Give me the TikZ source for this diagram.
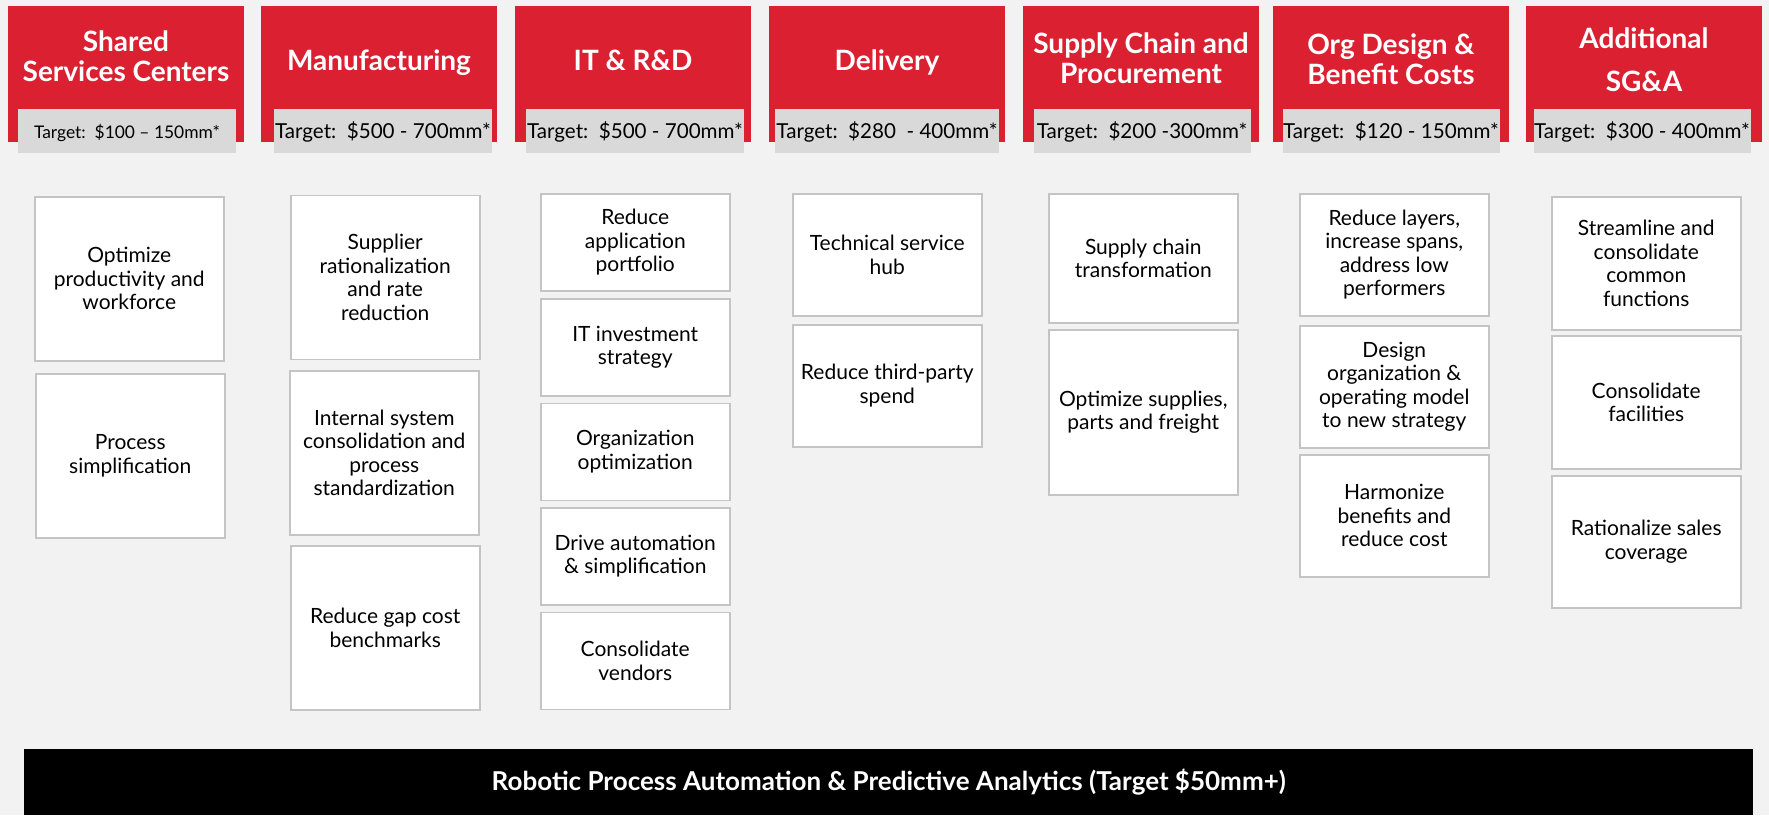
\documentclass[tikz,border=0pt]{standalone}
\usepackage{fontspec}
\setmainfont{Lato}
\definecolor{bgc}{HTML}{F2F2F2}
\definecolor{xred}{HTML}{DA2031}
\definecolor{bandc}{HTML}{D9D9D9}
\definecolor{edgec}{HTML}{C4C4C4}
\begin{document}
\begin{tikzpicture}[x=1pt,y=-1pt,
  hdr/.style={fill=xred, draw=none, anchor=north west, minimum width=236pt, minimum height=136pt, inner sep=0pt},
  tband/.style={fill=bandc, draw=none, anchor=north west, minimum height=44pt, inner sep=0pt},
  ttl/.style={text=white, font=\fontsize{28}{30}\selectfont\bfseries, align=center, anchor=base, inner sep=0pt},
  tgt/.style={text=black, font=\fontsize{20.6}{24}\selectfont, anchor=base, inner sep=0pt},
  card/.style={fill=white, draw=edgec, line width=1.5pt, anchor=north west, minimum width=189pt, inner sep=0pt, align=center, font=\fontsize{21}{23.4}\selectfont},
  bar/.style={fill=black, draw=none, anchor=north west, minimum width=1729pt, minimum height=66pt, inner sep=0pt, text=white, font=\fontsize{26}{30}\selectfont\bfseries},
]
\fill[bgc] (0,0) rectangle (1769,815);
\useasboundingbox (0,0) rectangle (1769,815);

% headers
\node[hdr] (h1) at (8,6) {};
\node[hdr] (h2) at (261,6) {};
\node[hdr] (h3) at (515,6) {};
\node[hdr] (h4) at (769,6) {};
\node[hdr] (h5) at (1023,6) {};
\node[hdr] (h6) at (1273,6) {};
\node[hdr] (h7) at (1526,6) {};

% titles (anchor=base is the baseline of the last line)
\node[ttl] (t1) at (126,81) {Shared\\Services Centers};
\node[ttl] (t2) at (379,70) {Manufacturing};
\node[ttl] (t3) at (633,70) {IT \& R\&D};
\node[ttl] (t4) at (887,70) {Delivery};
\node[ttl] (t5) at (1141,83) {Supply Chain and\\Procurement};
\node[ttl] (t6) at (1391,84) {Org Design \&\\Benefit Costs};
\node[ttl, font=\fontsize{28}{43}\selectfont\bfseries] (t7) at (1644,91) {Additional\\SG\&A};

% target bands
\node[tband, minimum width=218pt] (b1) at (18,109) {};
\node[tband, minimum width=218pt] (b2) at (274,109) {};
\node[tband, minimum width=218pt] (b3) at (526,109) {};
\node[tband, minimum width=224pt] (b4) at (775,109) {};
\node[tband, minimum width=217pt] (b5) at (1034,109) {};
\node[tband, minimum width=217pt] (b6) at (1283,109) {};
\node[tband, minimum width=217pt] (b7) at (1534,109) {};

\node[tgt, font=\fontsize{17.4}{20}\selectfont] (g1) at (127,138) {Target:\ \ \$100 – 150mm*};
\node[tgt] (g2) at (383,138) {Target:\ \ \$500 - 700mm*};
\node[tgt] (g3) at (635,138) {Target:\ \ \$500 - 700mm*};
\node[tgt] (g4) at (887,138) {Target:\ \ \$280\ \ - 400mm*};
\node[tgt] (g5) at (1142,138) {Target:\ \ \$200 -300mm*};
\node[tgt] (g6) at (1391,138) {Target:\ \ \$120 - 150mm*};
\node[tgt] (g7) at (1642,138) {Target:\ \ \$300 - 400mm*};

% column 1
\node[card, minimum height=164pt] (c11) at (34,196) {Optimize\\productivity and\\workforce};
\node[card, minimum height=164pt] (c12) at (35,373) {Process\\simplification};
% column 2
\node[card, minimum height=164pt] (c21) at (290,194.5) {Supplier\\rationalization\\and rate\\reduction};
\node[card, minimum height=164pt] (c22) at (289,370) {Internal system\\consolidation and\\process\\standardization};
\node[card, minimum height=164pt] (c23) at (290,545) {Reduce gap cost\\benchmarks};
% column 3
\node[card, minimum height=97pt] (c31) at (540,193) {Reduce\\application\\portfolio};
\node[card, minimum height=97pt] (c32) at (540,298) {IT investment\\strategy};
\node[card, minimum height=97pt] (c33) at (540,402.5) {Organization\\optimization};
\node[card, minimum height=97pt] (c34) at (540,507) {Drive automation\\\& simplification};
\node[card, minimum height=97pt] (c35) at (540,611.5) {Consolidate\\vendors};
% column 4
\node[card, minimum height=122pt] (c41) at (792,193) {Technical service\\hub};
\node[card, minimum height=122pt] (c42) at (792,324) {Reduce third-party\\spend};
% column 5
\node[card, minimum height=129pt] (c51) at (1048,193) {Supply chain\\transformation};
\node[card, minimum height=165pt] (c52) at (1048,329) {Optimize supplies,\\parts and freight};
% column 6
\node[card, minimum height=122pt] (c61) at (1299,193) {Reduce layers,\\increase spans,\\address low\\performers};
\node[card, minimum height=122pt] (c62) at (1299,325) {Design\\organization \&\\operating model\\to new strategy};
\node[card, minimum height=122pt] (c63) at (1299,454) {Harmonize\\benefits and\\reduce cost};
% column 7
\node[card, minimum height=133pt] (c71) at (1551,196) {Streamline and\\consolidate\\common\\functions};
\node[card, minimum height=133pt] (c72) at (1551,335) {Consolidate\\facilities};
\node[card, minimum height=132pt] (c73) at (1551,475) {Rationalize sales\\coverage};

% bottom bar
\node[bar] (rpa) at (24,749) {Robotic Process Automation \& Predictive Analytics (Target \$50mm+)};
\end{tikzpicture}
\end{document}
